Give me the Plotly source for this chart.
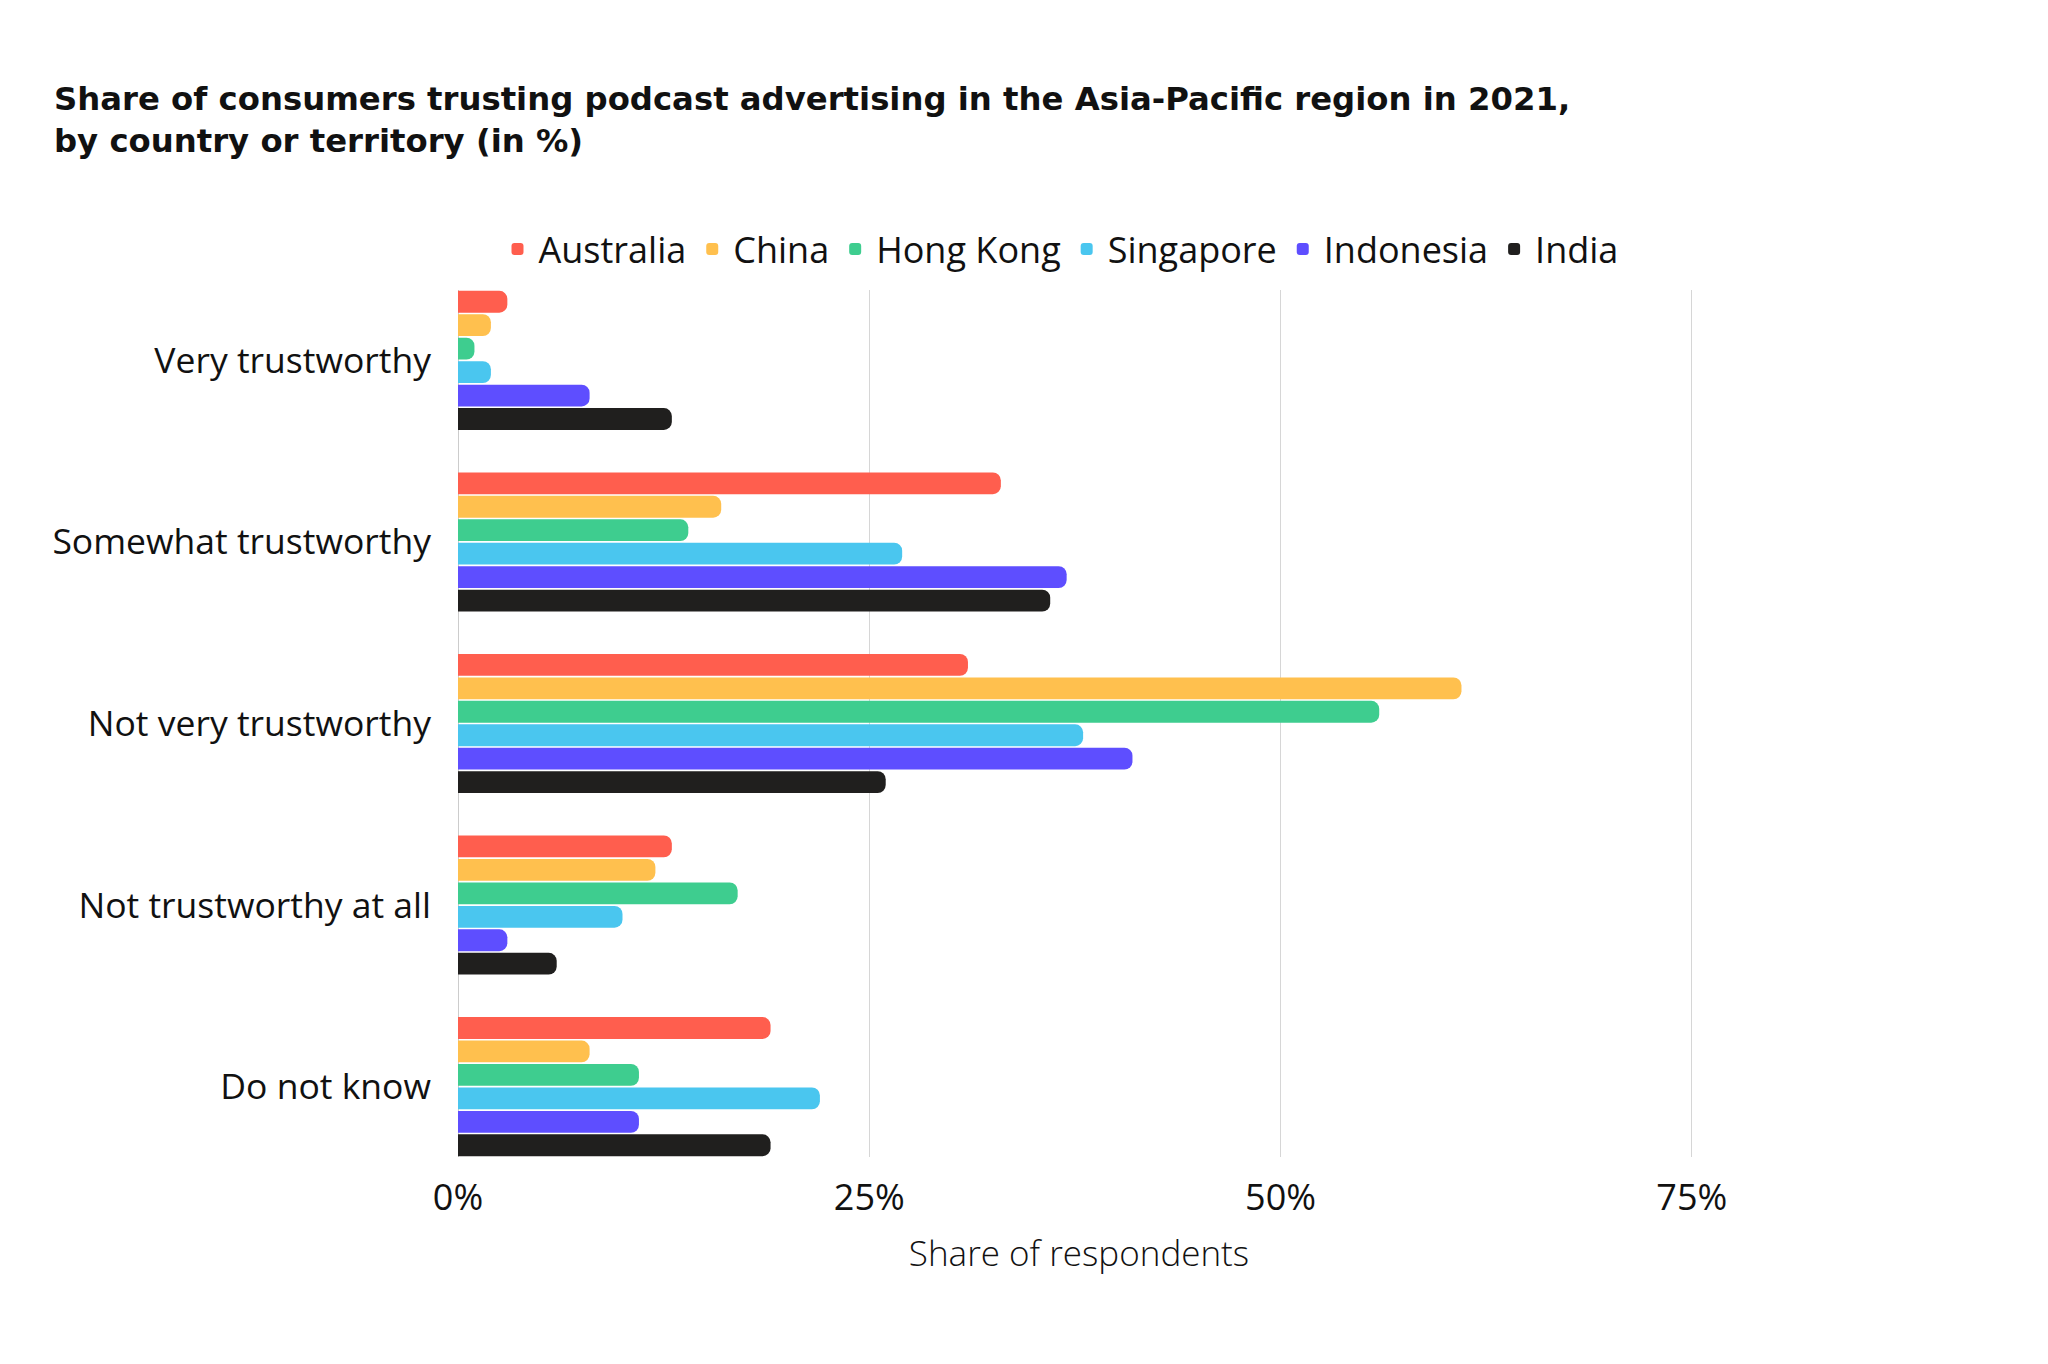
import plotly.graph_objects as go

categories = ["Very trustworthy", "Somewhat trustworthy", "Not very trustworthy",
              "Not trustworthy at all", "Do not know"]
countries = ["Australia", "China", "Hong Kong", "Singapore", "Indonesia", "India"]
australia = [3, 33, 31, 13, 19]
china = [2, 16, 61, 12, 8]
hong_kong = [1, 14, 56, 17, 11]
singapore = [2, 27, 38, 10, 22]
indonesia = [8, 37, 41, 3, 11]
india = [13, 36, 26, 6, 19]
series = [australia, china, hong_kong, singapore, indonesia, india]
colors = ["#FF5E4E", "#FFC04E", "#3ECD8F", "#4AC6EF", "#5E4EFF", "#201F1E"]
x_ticks = [0, 25, 50, 75]
x_tick_labels = ["0%", "25%", "50%", "75%"]

# page body has an 8px margin; shift everything up-left by that amount
OFF = 8
W, H = 2048 - OFF, 1364 - OFF
L, T, R, B = 458 - OFF, 290 - OFF, 348, 207

fig = go.Figure()
for name, vals, col in zip(countries, series, colors):
    fig.add_trace(go.Bar(
        y=categories, x=vals, name=name, orientation="h",
        marker=dict(color=col, line=dict(width=0)),
    ))

fig.update_layout(
    width=W, height=H,
    paper_bgcolor="white", plot_bgcolor="white",
    barmode="group", bargap=0.225, bargroupgap=0.07,
    barcornerradius=8,
    margin=dict(l=L, r=R, t=T, b=B, autoexpand=False),
    showlegend=True,
    legend=dict(orientation="h", x=(1060 - OFF) / W, xref="container", xanchor="center",
                y=1 - (249 - OFF) / H, yref="container", yanchor="middle",
                font=dict(family="Open Sans", size=36, color="#111"),
                itemwidth=32, traceorder="normal", itemclick=False),
    font=dict(family="Open Sans", color="#111"),
)

fig.add_annotation(
    text="Share of consumers trusting podcast advertising in the Asia-Pacific region in 2021,<br>by country or territory (in %)",
    xref="paper", yref="paper", x=(52 - OFF - L) / (W - L - R), y=1 + (T - (78 - OFF)) / (H - T - B),
    xanchor="left", yanchor="top", align="left", showarrow=False,
    font=dict(family="DejaVu Sans", size=32.3, color="#111", weight="bold"),
)

fig.update_xaxes(
    range=[0, 75.5], tickvals=x_ticks, ticktext=x_tick_labels,
    showgrid=True, gridcolor="#d6d6d6", gridwidth=1,
    zeroline=True, zerolinecolor="#cccccc", zerolinewidth=1,
    showline=False, ticks="", ticklabelstandoff=16, automargin=False,
    tickfont=dict(family="Open Sans", size=36, color="#111"),
    title=dict(text="Share of respondents", standoff=21,
               font=dict(family="Open Sans", size=35, color="#111", weight=300)),
)
fig.update_yaxes(
    categoryorder="array", categoryarray=categories,
    range=[4.3875, -0.3875], showgrid=False, showline=False, ticks="",
    ticklabelstandoff=26, automargin=False,
    tickfont=dict(family="Open Sans", size=35.5, color="#111"),
)

fig.write_html("out.html")
